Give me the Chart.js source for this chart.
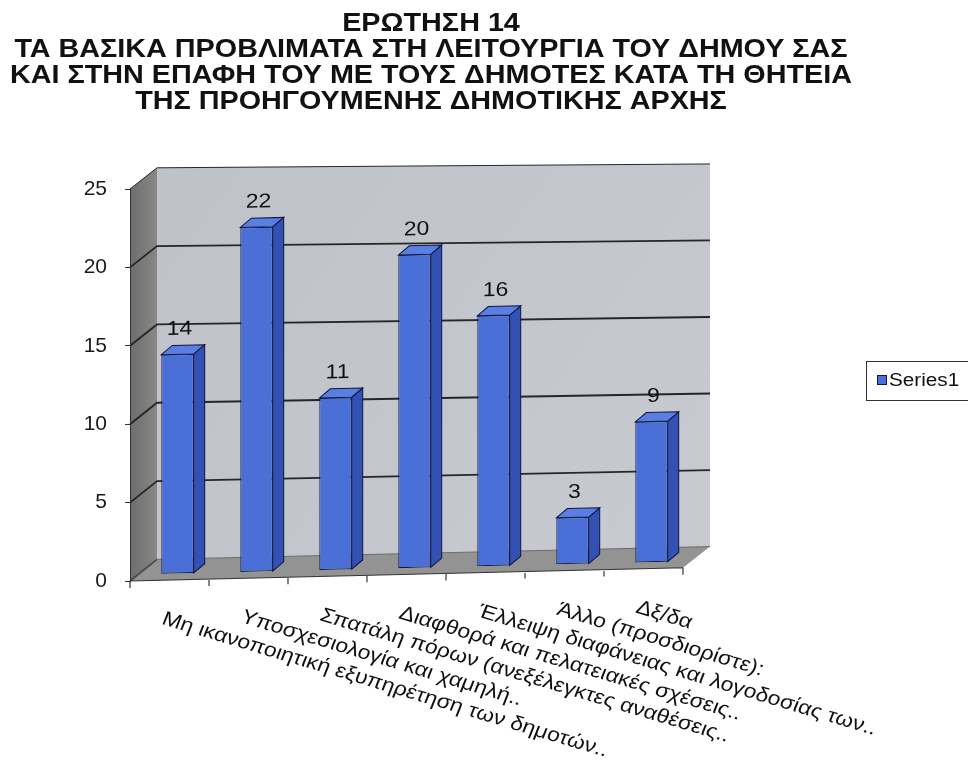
<!DOCTYPE html>
<html>
<head>
<meta charset="utf-8">
<script src="https://cdn.jsdelivr.net/npm/chart.js@4/dist/chart.umd.min.js"></script>
<style>
  html, body { margin: 0; padding: 0; background: #fff; }
  #zone { width: 968px; height: 772px; }
</style>
</head>
<body>
<div id="zone"><canvas id="graphique" width="968" height="772"></canvas></div>
<script>
/* ── Données ───────────────────────────────────────────────── */
const TITRE = [
  'ΕΡΩΤΗΣΗ 14',
  'ΤΑ ΒΑΣΙΚΑ ΠΡΟΒΛΙΜΑΤΑ ΣΤΗ ΛΕΙΤΟΥΡΓΙΑ ΤΟΥ ΔΗΜΟΥ ΣΑΣ',
  'ΚΑΙ ΣΤΗΝ ΕΠΑΦΗ ΤΟΥ ΜΕ ΤΟΥΣ ΔΗΜΟΤΕΣ ΚΑΤΑ ΤΗ ΘΗΤΕΙΑ',
  'ΤΗΣ ΠΡΟΗΓΟΥΜΕΝΗΣ ΔΗΜΟΤΙΚΗΣ ΑΡΧΗΣ',
];
const CATEGORIES = [
  'Μη ικανοποιητική εξυπηρέτηση των δημοτών..',
  'Υποσχεσιολογία και χαμηλή..',
  'Σπατάλη πόρων (ανεξέλεγκτες αναθέσεις..',
  'Διαφθορά και πελατειακές σχέσεις..',
  'Έλλειψη διαφάνειας και λογοδοσίας των..',
  'Άλλο (προσδιορίστε):',
  'Δξ/δα',
];
const VALEURS     = [14, 22, 11, 20, 16, 3, 9];
const GRADUATIONS = [0, 5, 10, 15, 20, 25];
const NOM_SERIE   = 'Series1';

/* ── Style 3D (façon Excel) ───────────────────────────────── */
const PROF        = { dx: 27, dy: -21 };   // profondeur des murs
const AVANCE      = { dx: 8,  dy: -6 };    // recul des barres dans la boîte
const PROF_BARRE  = { dx: 11, dy: -9 };
const PENTE_HAUT  = -0.007;                // perspective : les lignes montent vers la droite
const PENTE_BAS   = -0.024;
const ETIREMENT   = 1.15;                  // le scan d'origine est un peu étiré en largeur
const ANGLE_LIB   = 19;
const POLICE      = '"Liberation Sans", Arial, sans-serif';

const BLEU_FACE   = '#4a70d8';
const BLEU_COTE   = '#3251b2';
const BLEU_DESSUS = '#5a7ee2';
const CONTOUR     = '#0e1642';

function pente(y, area) {
  const haut = area.top + PROF.dy, bas = area.bottom;
  const t = Math.min(Math.max((y - haut) / (bas - haut), 0), 1);
  return PENTE_HAUT + (PENTE_BAS - PENTE_HAUT) * t;
}
function incline(x, y, area) {
  return y + pente(y, area) * (x - area.left);
}

function poly(ctx, pts, fill, stroke, lw) {
  ctx.beginPath();
  pts.forEach(([x, y], i) => i ? ctx.lineTo(x, y) : ctx.moveTo(x, y));
  ctx.closePath();
  if (fill)   { ctx.fillStyle = fill; ctx.fill(); }
  if (stroke) { ctx.strokeStyle = stroke; ctx.lineWidth = lw || 1; ctx.stroke(); }
}

/* texte élargi horizontalement, comme sur le document scanné */
function texteEtire(ctx, txt, x, y, angle) {
  ctx.save();
  ctx.translate(x, y);
  ctx.scale(ETIREMENT, 1);
  if (angle) ctx.rotate(angle * Math.PI / 180);
  ctx.fillText(txt, 0, 0);
  ctx.restore();
}

/* ── Plugin : murs, sol, barres en relief, libellés ────────── */
const boite3D = {
  id: 'boite3D',

  beforeDraw(chart) {
    const { ctx, chartArea: a, scales: { x, y } } = chart;
    const gx = a.left + PROF.dx, dx = a.right + PROF.dx;
    const yh = a.top + PROF.dy,  yb = a.bottom + PROF.dy;

    ctx.save();
    /* titre */
    ctx.fillStyle = '#111';
    ctx.textAlign = 'center';
    ctx.textBaseline = 'middle';
    ctx.font = 'bold 25px ' + POLICE;
    TITRE.forEach((l, i) => texteEtire(ctx, l, 431, 24 + i * 26));

    /* mur du fond */
    const gradFond = ctx.createLinearGradient(gx, yh, dx, yb);
    gradFond.addColorStop(0, '#c0c2c9');
    gradFond.addColorStop(1, '#c8cad1');
    poly(ctx, [[gx, incline(gx, yh, a)], [dx, incline(dx, yh, a)],
               [dx, incline(dx, yb, a)], [gx, incline(gx, yb, a)]], gradFond);

    /* mur de gauche */
    const gradGauche = ctx.createLinearGradient(a.left, 0, gx, 0);
    gradGauche.addColorStop(0, '#6d6d6d');
    gradGauche.addColorStop(1, '#888888');
    poly(ctx, [[a.left, a.top], [gx, incline(gx, yh, a)],
               [gx, incline(gx, yb, a)], [a.left, a.bottom]], gradGauche);

    /* sol */
    poly(ctx, [[a.left, a.bottom], [a.right, incline(a.right, a.bottom, a)],
               [dx, incline(dx, yb, a)], [gx, incline(gx, yb, a)]], '#939393');

    /* quadrillage */
    GRADUATIONS.forEach(v => {
      const fy = y.getPixelForValue(v);
      const by = fy + PROF.dy;
      ctx.beginPath();
      ctx.moveTo(a.left, fy);
      ctx.lineTo(gx, incline(gx, by, a));
      if (v > 0) ctx.lineTo(dx, incline(dx, by, a));
      ctx.strokeStyle = v === 0 ? '#4a4a4a' : '#262626';
      ctx.lineWidth = v === 25 ? 1 : 1.8;
      ctx.stroke();
    });
    /* arête sol / mur */
    ctx.beginPath();
    ctx.moveTo(gx, incline(gx, yb, a));
    ctx.lineTo(dx, incline(dx, yb, a));
    ctx.strokeStyle = '#6a6a6a';
    ctx.lineWidth = 1;
    ctx.stroke();

    /* axe des catégories + graduations */
    ctx.beginPath();
    ctx.moveTo(a.left, a.bottom);
    ctx.lineTo(a.right, incline(a.right, a.bottom, a));
    const demi = (x.getPixelForValue(1) - x.getPixelForValue(0)) / 2;
    for (let i = 0; i <= CATEGORIES.length; i++) {
      const tx = x.getPixelForValue(0) - demi + i * demi * 2;
      const ty = incline(tx, a.bottom, a);
      ctx.moveTo(tx, ty);
      ctx.lineTo(tx, ty + 7);
    }
    ctx.strokeStyle = '#333';
    ctx.lineWidth = 1.2;
    ctx.stroke();

    /* légende */
    ctx.strokeStyle = '#333';
    ctx.lineWidth = 1;
    ctx.strokeRect(866.5, 361.5, 120, 39);
    ctx.fillStyle = BLEU_FACE;
    ctx.fillRect(877.5, 375.5, 9, 9);
    ctx.strokeStyle = CONTOUR;
    ctx.strokeRect(877.5, 375.5, 9, 9);
    ctx.fillStyle = '#111';
    ctx.textAlign = 'left';
    ctx.font = '18px ' + POLICE;
    texteEtire(ctx, NOM_SERIE, 889, 381);
    ctx.restore();
  },

  beforeDatasetsDraw(chart) {
    const { ctx, chartArea: a } = chart;
    const s = pente(a.bottom + AVANCE.dy, a);
    ctx.save();
    ctx.transform(1, s, 0, 1, 0, -s * a.left);
    ctx.translate(AVANCE.dx, AVANCE.dy);
  },

  afterDatasetsDraw(chart) {
    const { ctx } = chart;
    const meta = chart.getDatasetMeta(0);
    meta.data.forEach((bar, i) => {
      const { x, y, base, width } = bar.getProps(['x', 'y', 'base', 'width'], true);
      const g = x - width / 2, d = x + width / 2;
      poly(ctx, [[d, y], [d + PROF_BARRE.dx, y + PROF_BARRE.dy],
                 [d + PROF_BARRE.dx, base + PROF_BARRE.dy], [d, base]], BLEU_COTE, CONTOUR, 1);
      poly(ctx, [[g, y], [g + PROF_BARRE.dx, y + PROF_BARRE.dy],
                 [d + PROF_BARRE.dx, y + PROF_BARRE.dy], [d, y]], BLEU_DESSUS, CONTOUR, 1);
      ctx.fillStyle = '#111';
      ctx.font = '20px ' + POLICE;
      ctx.textAlign = 'center';
      ctx.textBaseline = 'bottom';
      texteEtire(ctx, String(VALEURS[i]), x + 2, y - 15);
    });
    ctx.restore();
  },

  afterDraw(chart) {
    const { ctx, chartArea: a, scales: { x } } = chart;
    ctx.save();
    ctx.fillStyle = '#111';
    ctx.font = '20px ' + POLICE;
    ctx.textAlign = 'left';
    ctx.textBaseline = 'top';
    CATEGORIES.forEach((lib, i) => {
      const cx = x.getPixelForValue(i);
      texteEtire(ctx, lib, cx - 3, incline(cx, a.bottom, a) + 29, ANGLE_LIB);
    });
    ctx.restore();
  },
};

new Chart(document.getElementById('graphique').getContext('2d'), {
  type: 'bar',
  data: {
    labels: CATEGORIES,
    datasets: [{
      label              : NOM_SERIE,
      data               : VALEURS,
      backgroundColor    : BLEU_FACE,
      borderColor        : CONTOUR,
      borderWidth        : 1,
      borderSkipped      : false,
      barPercentage      : 0.41,
      categoryPercentage : 1,
      clip               : false,
    }],
  },
  options: {
    responsive : false,
    animation  : false,
    layout     : { padding: { top: 189, left: 70, right: 285, bottom: 191 } },
    plugins: {
      legend  : { display: false },
      title   : { display: false },
      tooltip : { enabled: false },
    },
    scales: {
      x: {
        ticks    : { display: false },
        grid     : { display: false },
        border   : { display: false },
        afterFit : s => { s.height = 0; },
      },
      y: {
        min: 0, max: 25,
        afterBuildTicks: s => { s.ticks = GRADUATIONS.map(v => ({ value: v })); },
        afterFit : s => { s.width = 60; },
        ticks    : { color: '#1a1a1a', padding: 18, font: { family: POLICE, size: 21 } },
        grid     : { drawOnChartArea: false, tickLength: 5, color: '#333' },
        border   : { color: '#333', width: 1 },
      },
    },
  },
  plugins: [boite3D],
});
</script>
</body>
</html>
